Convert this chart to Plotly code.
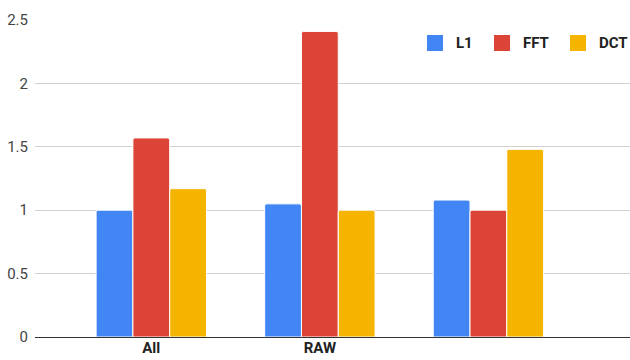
import plotly.graph_objects as go

categories = ["All", "RAW", " "]
l1_values = [1.00, 1.05, 1.08]
fft_values = [1.57, 2.41, 1.00]
dct_values = [1.17, 1.00, 1.48]
y_ticks = [0, 0.5, 1, 1.5, 2, 2.5]
y_tick_labels = ["0", "0.5", "1", "1.5", "2", "2.5"]

series = [
    ("L1", l1_values, "#4285F4"),
    ("FFT", fft_values, "#DB4437"),
    ("DCT", dct_values, "#F4B400"),
]

W, H = 630, 360
M_L, M_R, M_T, M_B = 35, 0, 20, 23
plot_w = W - M_L - M_R
plot_h = H - M_T - M_B


def px_to_paper(px, py):
    return (px - M_L) / plot_w, (H - M_B - py) / plot_h


fig = go.Figure()
for name, vals, color in series:
    fig.add_trace(go.Bar(
        x=categories, y=vals, name=name, showlegend=False,
        marker=dict(color=color, line=dict(color="white", width=1)),
    ))

# legend row: square swatch + bold label for each series
legend_left = [427, 494, 570]
swatch = 16
legend_cy = 43
shapes = []
annotations = []
for (name, _, color), lx in zip(series, legend_left):
    x0, y0 = px_to_paper(lx, legend_cy + swatch / 2)
    x1, y1 = px_to_paper(lx + swatch, legend_cy - swatch / 2)
    shapes.append(dict(
        type="rect", xref="paper", yref="paper",
        x0=x0, y0=y0, x1=x1, y1=y1,
        fillcolor=color, line=dict(width=0), layer="above",
    ))
    tx, ty = px_to_paper(lx + swatch + 11, legend_cy)
    annotations.append(dict(
        xref="paper", yref="paper", x=tx, y=ty, text=name,
        showarrow=False, xanchor="left", yanchor="middle",
        font=dict(family="Roboto", size=15, color="#222", weight="bold"),
    ))

fig.update_layout(
    width=W, height=H,
    margin=dict(l=M_L, r=M_R, t=M_T, b=M_B),
    paper_bgcolor="white", plot_bgcolor="white",
    barmode="group", bargap=0.345, bargroupgap=0.0,
    barcornerradius=2,
    font=dict(family="Roboto", color="#444"),
    showlegend=False,
    shapes=shapes,
    annotations=annotations,
    xaxis=dict(
        type="category", range=[-0.69, 2.84],
        showgrid=False, ticks="", showline=False,
        tickfont=dict(family="Roboto", size=15, color="#222", weight="bold"),
    ),
    yaxis=dict(
        range=[0, 2.5], tickvals=y_ticks, ticktext=y_tick_labels,
        showgrid=True, gridcolor="#d0d0d0", gridwidth=1,
        zeroline=True, zerolinecolor="#333", zerolinewidth=1,
        tickfont=dict(family="Roboto", size=15, color="#444"),
        ticks="", ticklabelstandoff=6,
    ),
)

fig.write_html("out.html")
